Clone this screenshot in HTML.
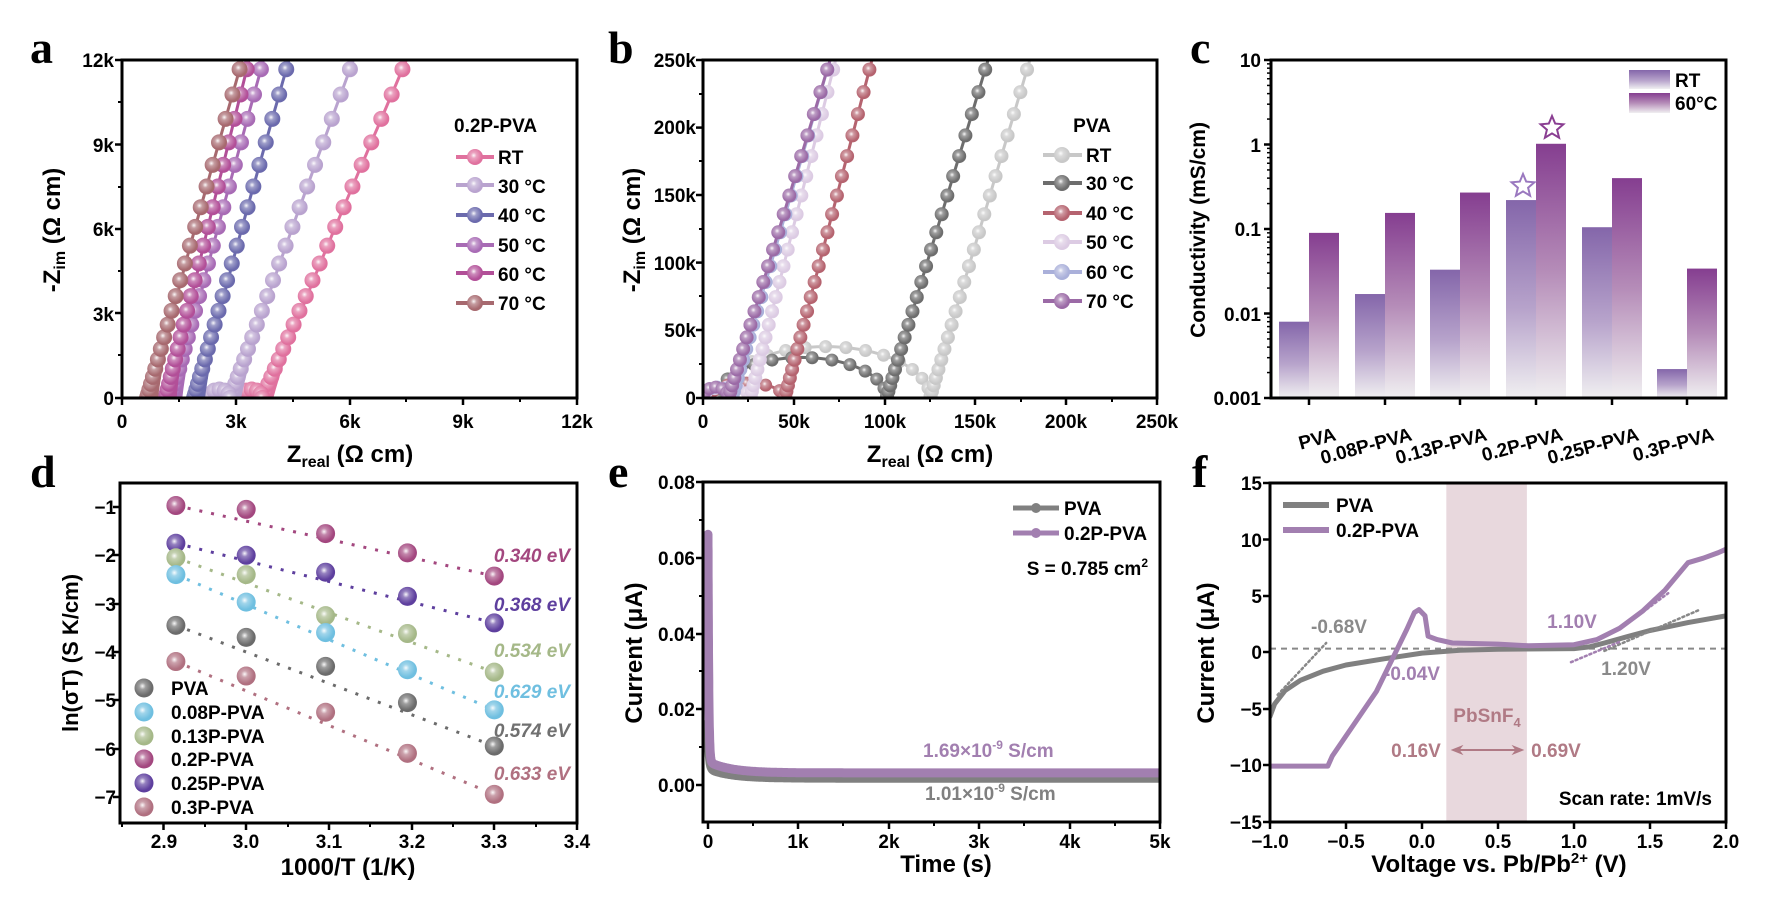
<!DOCTYPE html>
<html><head><meta charset="utf-8">
<style>
html,body{margin:0;padding:0;background:#fff;}
svg{display:block;}
text{font-family:"Liberation Sans",Arial,sans-serif;font-weight:bold;fill:#000;}
.t{font-size:19px;}
.ax{font-size:24px;}
.lg{font-size:19px;}
.pl{font-family:"Liberation Serif","Times New Roman",serif;font-size:46px;font-weight:bold;}
</style></head>
<body>
<svg id="s" xmlns="http://www.w3.org/2000/svg" width="1766" height="903" viewBox="0 0 1766 903">
<defs>
<radialGradient id="hl" cx="0.42" cy="0.4" r="0.5"><stop offset="0" stop-color="#fff" stop-opacity="0.95"/><stop offset="0.35" stop-color="#fff" stop-opacity="0.35"/><stop offset="1" stop-color="#fff" stop-opacity="0"/></radialGradient>
<linearGradient id="gRT" x1="0" y1="0" x2="0" y2="1"><stop offset="0" stop-color="#8466aa"/><stop offset="0.55" stop-color="#b7a3cb"/><stop offset="1" stop-color="#f0eff1"/></linearGradient>
<linearGradient id="g60" x1="0" y1="0" x2="0" y2="1"><stop offset="0" stop-color="#853e90"/><stop offset="0.5" stop-color="#b58cb8"/><stop offset="1" stop-color="#f0eff1"/></linearGradient>
<clipPath id="ca"><rect x="122" y="60" width="455" height="338"/></clipPath>
<clipPath id="cb"><rect x="703" y="60" width="454" height="338"/></clipPath>
<clipPath id="ce"><rect x="703" y="482" width="457" height="340"/></clipPath>
<clipPath id="cf"><rect x="1270" y="483" width="456" height="339"/></clipPath>
</defs>

<text class="pl" x="30" y="63">a</text>
<text class="pl" x="608" y="63">b</text>
<text class="pl" x="1190" y="63">c</text>
<text class="pl" x="30" y="487">d</text>
<text class="pl" x="608" y="487">e</text>
<text class="pl" x="1192" y="487">f</text>

<g id="plots"></g>

<g class="t" text-anchor="end">
<text x="114" y="67">12k</text><text x="114" y="152">9k</text><text x="114" y="236">6k</text><text x="114" y="321">3k</text><text x="114" y="405">0</text>
</g>
<g class="t" text-anchor="middle">
<text x="122" y="428">0</text><text x="236" y="428">3k</text><text x="350" y="428">6k</text><text x="463" y="428">9k</text><text x="577" y="428">12k</text>
</g>
<text class="ax" x="350" y="462" text-anchor="middle">Z<tspan font-size="16" dy="5">real</tspan><tspan dy="-5"> (Ω cm)</tspan></text>
<text class="ax" transform="translate(60,230) rotate(-90)" text-anchor="middle">-Z<tspan font-size="16" dy="5">im</tspan><tspan dy="-5"> (Ω cm)</tspan></text>
<text class="lg" x="454" y="132">0.2P-PVA</text>
<g class="lg"><text x="498" y="164">RT</text><text x="498" y="193">30 °C</text><text x="498" y="222">40 °C</text><text x="498" y="252">50 °C</text><text x="498" y="281">60 °C</text><text x="498" y="310">70 °C</text></g>

<g class="t" text-anchor="end">
<text x="696" y="67">250k</text><text x="696" y="134">200k</text><text x="696" y="202">150k</text><text x="696" y="270">100k</text><text x="696" y="337">50k</text><text x="696" y="405">0</text>
</g>
<g class="t" text-anchor="middle">
<text x="703" y="428">0</text><text x="794" y="428">50k</text><text x="885" y="428">100k</text><text x="975" y="428">150k</text><text x="1066" y="428">200k</text><text x="1157" y="428">250k</text>
</g>
<text class="ax" x="930" y="462" text-anchor="middle">Z<tspan font-size="16" dy="5">real</tspan><tspan dy="-5"> (Ω cm)</tspan></text>
<text class="ax" transform="translate(640,230) rotate(-90)" text-anchor="middle">-Z<tspan font-size="16" dy="5">im</tspan><tspan dy="-5"> (Ω cm)</tspan></text>
<text class="lg" x="1092" y="132" text-anchor="middle">PVA</text>
<g class="lg"><text x="1086" y="162">RT</text><text x="1086" y="190">30 °C</text><text x="1086" y="220">40 °C</text><text x="1086" y="249">50 °C</text><text x="1086" y="279">60 °C</text><text x="1086" y="308">70 °C</text></g>

<g class="t" text-anchor="end">
<text x="1261" y="67">10</text><text x="1261" y="152">1</text><text x="1261" y="236">0.1</text><text x="1261" y="321">0.01</text><text x="1261" y="405">0.001</text>
</g>
<text class="ax" style="font-size:21px" transform="translate(1205,230) rotate(-90)" text-anchor="middle">Conductivity (mS/cm)</text>
<g class="lg"><text x="1675" y="87">RT</text><text x="1675" y="110">60°C</text></g>
<g class="t" text-anchor="end">
<text transform="translate(1337,440) rotate(-15)">PVA</text>
<text transform="translate(1413,440) rotate(-15)">0.08P-PVA</text>
<text transform="translate(1488,440) rotate(-15)">0.13P-PVA</text>
<text transform="translate(1564,440) rotate(-15)">0.2P-PVA</text>
<text transform="translate(1640,440) rotate(-15)">0.25P-PVA</text>
<text transform="translate(1715,440) rotate(-15)">0.3P-PVA</text>
</g>

<g class="t" text-anchor="end">
<text x="116" y="514">−1</text><text x="116" y="562">−2</text><text x="116" y="611">−3</text><text x="116" y="659">−4</text><text x="116" y="707">−5</text><text x="116" y="756">−6</text><text x="116" y="804">−7</text>
</g>
<g class="t" text-anchor="middle">
<text x="164" y="848">2.9</text><text x="246" y="848">3.0</text><text x="329" y="848">3.1</text><text x="412" y="848">3.2</text><text x="494" y="848">3.3</text><text x="577" y="848">3.4</text>
</g>
<text class="ax" x="348" y="875" text-anchor="middle">1000/T (1/K)</text>
<text class="ax" style="font-size:22px" transform="translate(78,653) rotate(-90)" text-anchor="middle">ln(σT) (S K/cm)</text>
<g class="lg"><text x="171" y="695">PVA</text><text x="171" y="719">0.08P-PVA</text><text x="171" y="743">0.13P-PVA</text><text x="171" y="766">0.2P-PVA</text><text x="171" y="790">0.25P-PVA</text><text x="171" y="814">0.3P-PVA</text></g>
<g class="lg" text-anchor="end" font-style="italic">
<text x="570" y="562" style="fill:#a3477f">0.340 eV</text>
<text x="570" y="611" style="fill:#5e3f9e">0.368 eV</text>
<text x="570" y="657" style="fill:#a5b888">0.534 eV</text>
<text x="570" y="698" style="fill:#6fbfe0">0.629 eV</text>
<text x="570" y="737" style="fill:#707070">0.574 eV</text>
<text x="570" y="780" style="fill:#b07080">0.633 eV</text>
</g>

<g class="t" text-anchor="end">
<text x="695" y="489">0.08</text><text x="695" y="565">0.06</text><text x="695" y="641">0.04</text><text x="695" y="716">0.02</text><text x="695" y="792">0.00</text>
</g>
<g class="t" text-anchor="middle">
<text x="708" y="848">0</text><text x="798" y="848">1k</text><text x="889" y="848">2k</text><text x="979" y="848">3k</text><text x="1070" y="848">4k</text><text x="1160" y="848">5k</text>
</g>
<text class="ax" x="946" y="872" text-anchor="middle">Time (s)</text>
<text class="ax" transform="translate(642,653) rotate(-90)" text-anchor="middle">Current (μA)</text>
<g class="lg"><text x="1064" y="515">PVA</text><text x="1064" y="540">0.2P-PVA</text></g>
<text class="lg" x="1148" y="575" text-anchor="end">S = 0.785 cm<tspan font-size="12" dy="-8">2</tspan></text>
<text class="lg" x="923" y="757" style="fill:#a27fb0">1.69×10<tspan font-size="12" dy="-8">-9</tspan><tspan dy="8"> S/cm</tspan></text>
<text class="lg" x="925" y="800" style="fill:#808080">1.01×10<tspan font-size="12" dy="-8">-9</tspan><tspan dy="8"> S/cm</tspan></text>

<g class="t" text-anchor="end">
<text x="1262" y="490">15</text><text x="1262" y="547">10</text><text x="1262" y="603">5</text><text x="1262" y="659">0</text><text x="1262" y="716">−5</text><text x="1262" y="772">−10</text><text x="1262" y="829">−15</text>
</g>
<g class="t" text-anchor="middle">
<text x="1270" y="848">−1.0</text><text x="1346" y="848">−0.5</text><text x="1422" y="848">0.0</text><text x="1498" y="848">0.5</text><text x="1574" y="848">1.0</text><text x="1650" y="848">1.5</text><text x="1726" y="848">2.0</text>
</g>
<text class="ax" x="1499" y="872" text-anchor="middle">Voltage vs. Pb/Pb<tspan font-size="15" dy="-9">2+</tspan><tspan dy="9"> (V)</tspan></text>
<text class="ax" transform="translate(1214,653) rotate(-90)" text-anchor="middle">Current (μA)</text>
<g class="lg"><text x="1336" y="512">PVA</text><text x="1336" y="537">0.2P-PVA</text></g>
<g class="lg" text-anchor="middle">
<text x="1339" y="633" style="fill:#8a8a8a">-0.68V</text>
<text x="1412" y="680" style="fill:#a27fb0">-0.04V</text>
<text x="1572" y="628" style="fill:#a27fb0">1.10V</text>
<text x="1626" y="675" style="fill:#8a8a8a">1.20V</text>
<text x="1487" y="722" style="fill:#b07a85">PbSnF<tspan font-size="13" dy="5">4</tspan></text>
<text x="1416" y="757" style="fill:#b07a85">0.16V</text>
<text x="1556" y="757" style="fill:#b07a85">0.69V</text>
</g>
<text class="lg" x="1712" y="805" text-anchor="end">Scan rate: 1mV/s</text>
</svg>

<script>
(function(){
var NS='http://www.w3.org/2000/svg';
var root=document.getElementById('plots');
function el(t,a,p){var e=document.createElementNS(NS,t);for(var k in a)e.setAttribute(k,a[k]);(p||root).appendChild(e);return e;}
function ball(g,x,y,r,c){el('circle',{cx:x,cy:y,r:r,fill:c},g);el('circle',{cx:x,cy:y,r:r,fill:'url(#hl)'},g);}
function pl(g,pts,c,w,extra){var d='';pts.forEach(function(p,i){d+=(i?'L':'M')+p[0].toFixed(1)+' '+p[1].toFixed(1);});var a={d:d,fill:'none',stroke:c,'stroke-width':w,'stroke-linejoin':'round','stroke-linecap':'round'};for(var k in extra)a[k]=extra[k];return el('path',a,g);}
function box(x0,y0,x1,y1){el('rect',{x:x0,y:y0,width:x1-x0,height:y1-y0,fill:'none',stroke:'#000','stroke-width':3});}
function xt(xs,y,len,w){xs.forEach(function(x){el('line',{x1:x,y1:y,x2:x,y2:y+len,stroke:'#000','stroke-width':w||2.5});});}
function yt(ys,x,len,w){ys.forEach(function(y){el('line',{x1:x,y1:y,x2:x-len,y2:y,stroke:'#000','stroke-width':w||2.5});});}

var ga=el('g',{'clip-path':'url(#ca)'});
var AX=function(k){return 122+k*37.92;}, AY=function(k){return 398-k*28.17;};
var ca=[['#e0719e',3.7,7.5,true],['#b9a3cf',2.85,6.1,true],['#6b6aad',1.9,4.4,false],['#a86bb5',1.3,3.73,false],['#b24f98',1.15,3.35,false],['#a7696f',0.66,3.17,false]];
ca.forEach(function(c){
  var pts=[];
  if(c[3]){for(var i=0;i<=10;i++){var a=Math.PI*(1-i/10);pts.push([AX(c[1]+0.28*(Math.cos(a)-1)),AY(0.35*Math.sin(a))]);}}
  for(var i=0;i<=40;i++){var t=i/40;var y=12.8*t;var x=c[1]+(c[2]-c[1])*(y/12)+0.25*Math.pow(1-t,6);pts.push([AX(x),AY(y)]);}
  pl(ga,pts,c[0],3);
  for(var k=0;k<=24;k++){var y=12.6*Math.pow(k/24,1.8);var x=c[1]+(c[2]-c[1])*(y/12);ball(ga,AX(x),AY(y),8,c[0]);}
  if(c[3]){for(var i=0;i<=6;i++){var a=Math.PI*(1-i/6);ball(ga,AX(c[1]-0.28+0.28*Math.cos(a)),AY(0.3*Math.sin(a)),8,c[0]);}}
});
box(122,60,577,398);
xt([122,236,350,463,577],398,7);xt([179,293,406,520],398,4,2);
yt([60,144.5,229,313,398],122,7);yt([102,187,271,355],122,4,2);
var ly=[157,185,215,245,273,303];
ca.forEach(function(c,i){el('line',{x1:456,y1:ly[i],x2:494,y2:ly[i],stroke:c[0],'stroke-width':4},root);ball(root,475,ly[i],8,c[0]);});

var gb=el('g',{'clip-path':'url(#cb)'});
var BX=function(k){return 703+k*1.816;}, BY=function(k){return 398-k*1.352;};
var cb=[['#c8c8c8',10,125,38,180],['#6d6d6d',8,101,30,157],['#b5636f',3,45,11,93],['#dccbe3',0,26,8,73],['#aab0da',0,16,8,70],['#9b6aa6',0,14,8,70]];
cb.forEach(function(c){
  var cx=(c[1]+c[2])/2,rx=(c[2]-c[1])/2,ry=c[3];var pts=[];
  for(var i=0;i<=40;i++){var a=Math.PI*(1-i/40);pts.push([BX(cx+rx*Math.cos(a)),BY(ry*Math.sin(a)+(i<3?4:0))]);}
  for(var i=0;i<=30;i++){var y=265*i/30;var x=c[2]+(c[4]-c[2])*y/250;pts.push([BX(x),BY(y)]);}
  pl(gb,pts,c[0],3);
  var n=Math.max(6,Math.round(rx/3.5));
  for(var i=0;i<=n;i++){var a=Math.PI*(1-i/n);ball(gb,BX(cx+rx*Math.cos(a)),BY(ry*Math.sin(a)),6.5,c[0]);}
  for(var k=1;k<=24;k++){var y=260*Math.pow(k/24,1.6);var x=c[2]+(c[4]-c[2])*y/250;ball(gb,BX(x),BY(y),7,c[0]);}
});
box(703,60,1157,398);
xt([703,794,885,975,1066,1157],398,7);xt([748,839,930,1021,1112],398,4,2);
yt([60,127.6,195,262.6,330,398],703,7);yt([94,161,229,296,364],703,4,2);
var lyb=[155,183,213,242,272,301];
cb.forEach(function(c,i){el('line',{x1:1043,y1:lyb[i],x2:1082,y2:lyb[i],stroke:c[0],'stroke-width':4},root);ball(root,1062,lyb[i],8,c[0]);});

var CY=function(v){return 398-(Math.log10(v)+3)*84.5;};
var cen=[1309,1385,1460,1536,1612,1687];
var rt=[0.008,0.017,0.033,0.22,0.105,0.0022], h6=[0.09,0.155,0.27,1.02,0.4,0.034];
cen.forEach(function(c,i){
  var y1=CY(rt[i]);el('rect',{x:c-30,y:y1,width:30,height:398-y1,fill:'url(#gRT)'});
  var y2=CY(h6[i]);el('rect',{x:c,y:y2,width:30,height:398-y2,fill:'url(#g60)'});
});
function star(x,y,r,col){var p='';for(var i=0;i<10;i++){var a=-Math.PI/2+i*Math.PI/5;var rr=i%2?r*0.45:r;p+=(x+rr*Math.cos(a)).toFixed(1)+','+(y+rr*Math.sin(a)).toFixed(1)+' ';}el('polygon',{points:p,fill:'#fff',stroke:col,'stroke-width':2});}
star(1552,128,12,'#8a3e92');star(1523,186,12,'#9a78bf');
box(1271,60,1726,398);
xt(cen,398,7);
yt([60,144.5,229,313.5,398],1271,7);
[0,1,2,3].forEach(function(d){for(var m=2;m<=9;m++){var y=398-(d+Math.log10(m))*84.5;el('line',{x1:1271,y1:y,x2:1267,y2:y,stroke:'#000','stroke-width':1.5});}});
el('rect',{x:1629,y:70,width:41,height:19,fill:'url(#gRT)'});
el('rect',{x:1629,y:93,width:41,height:20,fill:'url(#g60)'});

var DX=function(v){return 163.5+(v-2.9)*827;}, DY=function(v){return 507+(-1-v)*48.3;};
var xs=[2.915,3.0,3.096,3.195,3.3];
var dd=[['#a3477f',[-0.97,-1.05,-1.55,-1.95,-2.43]],['#5e3f9e',[-1.75,-2.0,-2.35,-2.85,-3.4]],['#a5b888',[-2.05,-2.4,-3.25,-3.62,-4.42]],['#6fbfe0',[-2.4,-2.97,-3.6,-4.37,-5.2]],['#6b6b6b',[-3.45,-3.7,-4.3,-5.05,-5.95]],['#b07080',[-4.2,-4.5,-5.25,-6.1,-6.95]]];
dd.forEach(function(s){var v=s[1];el('line',{x1:DX(xs[0]),y1:DY(v[0]),x2:DX(xs[4]),y2:DY(v[4]),stroke:s[0],'stroke-width':3,'stroke-dasharray':'3 9'});});
dd.forEach(function(s){s[1].forEach(function(v,i){ball(root,DX(xs[i]),DY(v),9.5,s[0]);});});
box(120,483,577,823);
xt([163.5,246,329,412,494,577],823,7);xt([122,205,288,370,453,536],823,4,2);
yt([507,555,604,652,700,749,797],120,7);
var ldy=[688,712,736,759,783,807],lc=['#6b6b6b','#6fbfe0','#a5b888','#a3477f','#5e3f9e','#b07080'];
ldy.forEach(function(y,i){ball(root,144,y,9.5,lc[i]);});

var ge=el('g',{'clip-path':'url(#ce)'});
var EX=function(t){return 708+t*90.4;}, EY=function(i){return 785-i*3787.5;};
var pg=[];for(var k=0;k<=300;k++){var t=5.1*Math.pow(k/300,2.5);pg.push([EX(t),EY(0.0018+0.012*Math.exp(-t/0.012)+0.0025*Math.exp(-t/0.25))]);}
pl(ge,pg,'#808080',9);
var pp=[];for(var k=0;k<=300;k++){var t=5.1*Math.pow(k/300,2.5);pp.push([EX(t),EY(0.0032+0.06*Math.exp(-t/0.008)+0.003*Math.exp(-t/0.25))]);}
pl(ge,pp,'#a27fb0',9);
[0.065,0.0505,0.042,0.037,0.032,0.029,0.026].forEach(function(v){el('circle',{cx:709,cy:EY(v),r:3.5,fill:'#a27fb0'},ge);});
box(703,482,1160,822);
xt([708,798,889,979,1070,1160],822,7);xt([753,843,934,1024,1115],822,4,2);
yt([482,558,634,709,785],703,7);yt([520,596,671,747],703,4,2);
el('line',{x1:1013,y1:508,x2:1059,y2:508,stroke:'#808080','stroke-width':5});el('circle',{cx:1036,cy:508,r:5,fill:'#808080'});
el('line',{x1:1013,y1:533,x2:1059,y2:533,stroke:'#a27fb0','stroke-width':5});el('circle',{cx:1036,cy:533,r:5,fill:'#a27fb0'});

var gf=el('g',{'clip-path':'url(#cf)'});
var FX=function(v){return 1270+(v+1)*152;}, FY=function(v){return 652-v*11.3;};
el('rect',{x:FX(0.16),y:483,width:FX(0.69)-FX(0.16),height:339,fill:'#e8d8dd'},gf);
el('line',{x1:1270,y1:FY(0.3),x2:1726,y2:FY(0.3),stroke:'#888','stroke-width':2,'stroke-dasharray':'6 5'},gf);
function fp(a){return a.map(function(p){return [FX(p[0]),FY(p[1])];});}
pl(gf,fp([[-1,-5.7],[-0.97,-4.6],[-0.9,-3.4],[-0.8,-2.5],[-0.65,-1.7],[-0.5,-1.15],[-0.25,-0.6],[0,-0.1],[0.25,0.15],[0.5,0.25],[1.0,0.3],[1.1,0.45],[1.2,0.8],[1.35,1.35],[1.5,1.9],[1.75,2.6],[2.0,3.2]]),'#808080',5);
pl(gf,fp([[-1,-10.1],[-0.62,-10.1],[-0.59,-9.2],[-0.3,-3.5],[-0.1,2],[-0.05,3.5],[-0.02,3.75],[0.02,3.2],[0.04,1.4],[0.1,1.1],[0.2,0.8],[0.5,0.7],[0.7,0.55],[1.0,0.65],[1.15,1.1],[1.3,2.1],[1.45,3.6],[1.6,5.5],[1.75,7.9],[1.85,8.3],[1.95,8.8],[2.0,9.1]]),'#a27fb0',5);
pl(gf,fp([[-0.95,-3.8],[-0.63,0.8]]),'#888',2.5,{'stroke-dasharray':'2 3'});
pl(gf,fp([[1.2,0.1],[1.82,3.7]]),'#888',2.5,{'stroke-dasharray':'2 3'});
pl(gf,fp([[0.98,-0.9],[1.3,0.9]]),'#a27fb0',2.5,{'stroke-dasharray':'2 3'});
pl(gf,fp([[1.4,3],[1.62,5.2]]),'#a27fb0',2.5,{'stroke-dasharray':'2 3'});
box(1270,483,1726,822);
xt([1270,1346,1422,1498,1574,1650,1726],822,7);
yt([483,539.5,596,652,709,765,822],1270,7);
el('line',{x1:1283,y1:505,x2:1329,y2:505,stroke:'#808080','stroke-width':6});
el('line',{x1:1283,y1:530,x2:1329,y2:530,stroke:'#a27fb0','stroke-width':6});
el('line',{x1:1455,y1:750,x2:1520,y2:750,stroke:'#b07a85','stroke-width':2});
el('path',{d:'M1452 750 l10 -4 l-3 4 l3 4z M1523 750 l-10 -4 l3 4 l-3 4z',fill:'#b07a85',stroke:'#b07a85','stroke-width':1});
})();
</script>
</body></html>
